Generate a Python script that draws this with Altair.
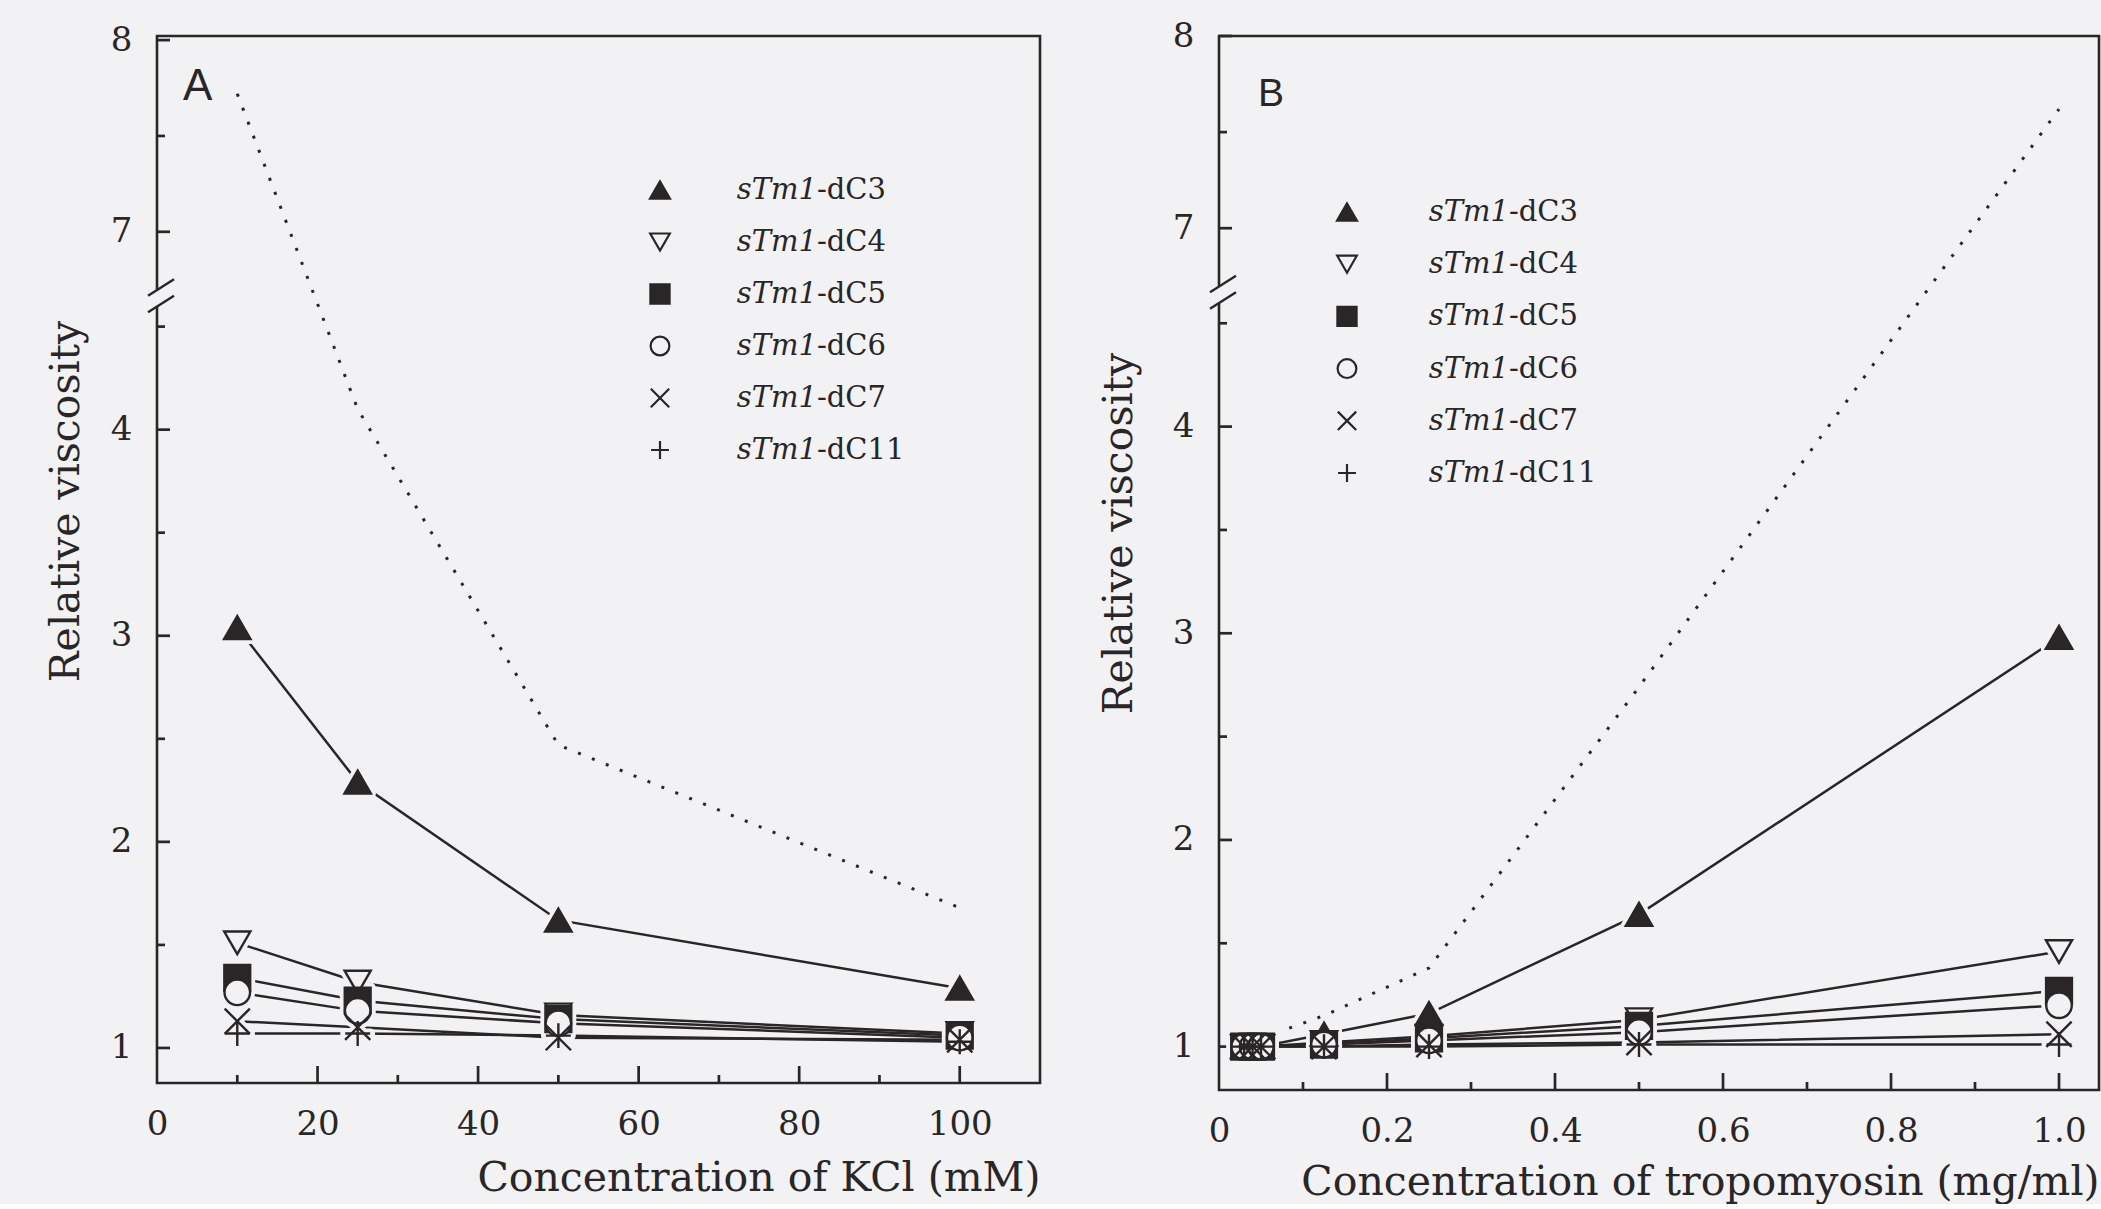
import altair as alt
import pandas as pd

INK = "#2a2527"
BG = "#f2f2f4"
SERIF = "DejaVu Serif"
SANS = "Liberation Sans"

# ---------------- data ----------------
SERIES = ["dC3", "dC4", "dC5", "dC6", "dC7", "dC11"]
PREFIX = "sTm1"
SHAPES = ["triangle-up", "triangle-down", "square", "circle",
          "M-1,-1L1,1M-1,1L1,-1", "M-1,0L1,0M0,-1L0,1"]
FILLS = [INK, BG, INK, BG, BG, BG]
SIZES = [700, 620, 420, 500, 420, 480]
LEG_SIZES = [400, 320, 250, 400, 300, 280]

# Panel A : KCl (mM)
kcl = [10, 25, 50, 100]
a_dC3 = [3.04, 2.29, 1.62, 1.29]
a_dC4 = [1.51, 1.32, 1.16, 1.07]
a_dC5 = [1.34, 1.23, 1.14, 1.06]
a_dC6 = [1.27, 1.18, 1.12, 1.05]
a_dC7 = [1.13, 1.10, 1.05, 1.04]
a_dC11 = [1.07, 1.07, 1.06, 1.03]
kcl_dot = [10, 25, 50, 100]
a_dot = [7.72, 4.10, 2.47, 1.68]

# Panel B : tropomyosin (mg/ml)
tm = [0.03, 0.04, 0.05, 0.125, 0.25, 0.5, 1.0]
b_dC3 = [1.0, 1.0, 1.0, 1.06, 1.16, 1.64, 2.98]
b_dC4 = [1.0, 1.0, 1.0, 1.02, 1.05, 1.13, 1.46]
b_dC5 = [1.0, 1.0, 1.0, 1.01, 1.04, 1.10, 1.27]
b_dC6 = [1.0, 1.0, 1.0, 1.01, 1.03, 1.07, 1.20]
b_dC7 = [1.0, 1.0, 1.0, 1.0, 1.01, 1.02, 1.06]
b_dC11 = [1.0, 1.0, 1.0, 1.0, 1.0, 1.01, 1.01]
tm_dot = [0.05, 0.125, 0.25, 0.5, 1.0]
b_dot = [1.04, 1.15, 1.38, 2.74, 7.62]

# axis ticks / labels
y_major = [1, 2, 3, 4, 7, 8]
y_minor = [1.5, 2.5, 3.5, 4.5, 7.5]
a_x_labels = [0, 20, 40, 60, 80, 100]
a_x_major = [20, 40, 60, 80, 100]
a_x_minor = [10, 30, 50, 70, 90]
b_x_labels = [0, 0.2, 0.4, 0.6, 0.8, 1.0]
b_x_major = [0.2, 0.4, 0.6, 0.8, 1.0]
b_x_minor = [0.1, 0.3, 0.5, 0.7, 0.9]

# broken y axis: values above the break are compressed onto the plot scale
UP_BASE, UP_SCALE = 4.96, 0.93
BREAK_GAP = [4.60, 4.68]
BREAK_SLASHES = [[4.57, 4.65], [4.65, 4.73]]


def to_plot(v):
    return v if v <= 5 else UP_BASE + (v - 7) * UP_SCALE


Y_LABEL_EXPR = (f"datum.value > 4.8 ? format(7 + (datum.value - {UP_BASE}) / {UP_SCALE}, '.0f')"
                " : format(datum.value, '.0f')")

SHAPE_SC = alt.Scale(domain=SERIES, range=SHAPES)
FILL_SC = alt.Scale(domain=SERIES, range=FILLS)
SIZE_SC = alt.Scale(domain=SERIES, range=SIZES)
LEG_SIZE_SC = alt.Scale(domain=SERIES, range=LEG_SIZES)


def make_panel(xs, series_vals, dot_x, dot_v, cfg):
    rows = []
    for name, vals in zip(SERIES, series_vals):
        for x, v in zip(xs, vals):
            rows.append({"x": x, "yp": to_plot(v), "value": v, "series": name})
    pts = pd.DataFrame(rows)
    dots = pd.DataFrame({"x": dot_x, "yp": [to_plot(v) for v in dot_v]})

    W, H = cfg["w"], cfg["h"]
    X = alt.X("x:Q", scale=alt.Scale(domain=cfg["xdom"], nice=False, zero=False),
              axis=alt.Axis(values=cfg["xlabels"], labelExpr=cfg["xlabexpr"], ticks=False,
                            domain=False, grid=False, labelFont=SERIF, labelFontSize=34,
                            labelColor=INK, labelPadding=24, labelFlush=False, labelOverlap=False,
                            title=cfg["xtitle"], titleFont=SERIF, titleFontSize=41,
                            titleFontWeight="normal", titleColor=INK, titleX=W,
                            titleY=cfg["xtitleY"], titleAlign="right",
                            titleBaseline="alphabetic", titleAnchor="end"))
    Y = alt.Y("yp:Q", scale=alt.Scale(domain=cfg["ydom"], nice=False, zero=False),
              axis=alt.Axis(values=[to_plot(v) for v in y_major], labelExpr=Y_LABEL_EXPR,
                            ticks=False, domain=False, grid=False, labelFont=SERIF,
                            labelFontSize=34, labelColor=INK, labelPadding=25,
                            labelBaseline="middle",
                            title="Relative viscosity", titleFont=SERIF, titleFontSize=41,
                            titleFontWeight="normal", titleColor=INK, titleAngle=270,
                            titleX=cfg["ytitle"][0], titleY=cfg["ytitle"][1],
                            titleAlign="center", titleBaseline="middle"))

    dotted = alt.Chart(dots).mark_line(color=INK, strokeWidth=3, strokeDash=[3, 12]).encode(
        x=X, y=Y)
    lines = alt.Chart(pts).mark_line(color=INK, strokeWidth=2.5).encode(
        x=X, y=Y, detail="series:N")

    # inward tick marks: short segments from the axis into the plot
    tk = dict(color=INK, strokeWidth=2.7)
    xt_major = pd.DataFrame({"x": cfg["xmajor"]})
    xt_minor = pd.DataFrame({"x": cfg["xminor"]})
    yt_major = pd.DataFrame({"yp": [to_plot(v) for v in y_major]})
    yt_minor = pd.DataFrame({"yp": [to_plot(v) for v in y_minor]})
    ticks = [
        alt.Chart(xt_major).mark_rule(**tk).encode(x=X, y=alt.value(H - 17), y2=alt.value(H)),
        alt.Chart(xt_minor).mark_rule(**tk).encode(x=X, y=alt.value(H - 8), y2=alt.value(H)),
        alt.Chart(yt_major).mark_rule(**tk).encode(y=Y, x=alt.value(0), x2=alt.value(13)),
        alt.Chart(yt_minor).mark_rule(**tk).encode(y=Y, x=alt.value(0), x2=alt.value(8)),
    ]

    gap = pd.DataFrame({"yp": [BREAK_GAP[0]], "yp2": [BREAK_GAP[1]]})
    slashes = pd.DataFrame({"yp": [s[0] for s in BREAK_SLASHES],
                            "yp2": [s[1] for s in BREAK_SLASHES]})
    brk = [
        alt.Chart(gap).mark_rule(color=BG, strokeWidth=8).encode(
            x=alt.value(0), x2=alt.value(0), y=Y, y2=alt.Y2("yp2")),
        alt.Chart(slashes).mark_rule(color=INK, strokeWidth=2.4).encode(
            x=alt.value(-9), x2=alt.value(17), y=Y, y2=alt.Y2("yp2")),
    ]
    halos = alt.Chart(pts).mark_point(filled=True, opacity=1, fill=BG, stroke=BG,
                                      strokeWidth=10, strokeJoin="round",
                                      strokeCap="round").encode(
        x=X, y=Y,
        shape=alt.Shape("series:N", scale=SHAPE_SC, legend=None),
        size=alt.Size("series:N", scale=SIZE_SC, legend=None))
    marks = alt.Chart(pts).mark_point(filled=True, opacity=1, stroke=INK,
                                      strokeWidth=2.4).encode(
        x=X, y=Y,
        shape=alt.Shape("series:N", scale=SHAPE_SC, legend=None),
        fill=alt.Fill("series:N", scale=FILL_SC, legend=None),
        size=alt.Size("series:N", scale=SIZE_SC, legend=None))

    main = alt.layer(dotted, lines, *ticks, *brk, halos, marks)

    # manual legend (mixed italic / roman label), own row scale
    leg = pd.DataFrame({"series": SERIES, "row": list(range(len(SERIES))),
                        "pre": [PREFIX] * len(SERIES), "suf": ["-" + s for s in SERIES]})
    LY = alt.Y("row:Q", scale=alt.Scale(domain=[0, len(SERIES) - 1], range=cfg["legrange"]),
               axis=None)
    leg_sym = alt.Chart(leg).mark_point(filled=True, opacity=1, stroke=INK,
                                        strokeWidth=2.2).encode(
        x=alt.value(cfg["legx"]), y=LY,
        shape=alt.Shape("series:N", scale=SHAPE_SC, legend=None),
        fill=alt.Fill("series:N", scale=FILL_SC, legend=None),
        size=alt.Size("series:N", scale=LEG_SIZE_SC, legend=None))
    leg_pre = alt.Chart(leg).mark_text(font=SERIF, fontStyle="italic", fontSize=29,
                                       align="right", baseline="middle", color=INK).encode(
        x=alt.value(cfg["legj"]), y=LY, text="pre:N")
    leg_suf = alt.Chart(leg).mark_text(font=SERIF, fontSize=29, align="left",
                                       baseline="middle", color=INK).encode(
        x=alt.value(cfg["legj"]), y=LY, text="suf:N")
    letter = alt.Chart(pd.DataFrame({"t": [cfg["letter"]]})).mark_text(
        font=SANS, fontSize=cfg["letsize"], align="left", baseline="alphabetic",
        color=INK).encode(x=alt.value(cfg["letpos"][0]), y=alt.value(cfg["letpos"][1]),
                          text="t:N")
    extra = [leg_sym, leg_pre, leg_suf, letter]
    if cfg.get("anchor"):
        extra.append(alt.Chart(pd.DataFrame({"a": [0]})).mark_rule(opacity=0, strokeOpacity=0).encode(
            x=alt.value(cfg["anchor"][0]), x2=alt.value(cfg["anchor"][0] + 1),
            y=alt.value(cfg["anchor"][1]), y2=alt.value(cfg["anchor"][1] + 1)))
    legend = alt.layer(*extra)

    return alt.layer(main, legend).resolve_scale(
        x="independent", y="independent", size="independent").properties(width=W, height=H)


panelA = make_panel(
    kcl, [a_dC3, a_dC4, a_dC5, a_dC6, a_dC7, a_dC11], kcl_dot, a_dot,
    dict(w=883, h=1047, xdom=[0, 110], ydom=[0.83, 5.91],
         xlabels=a_x_labels, xlabexpr="format(datum.value, 'd')",
         xmajor=a_x_major, xminor=a_x_minor,
         xtitle="Concentration of KCl (mM)", xtitleY=107, ytitle=(-91, 465),
         legrange=[154, 414], legx=503, legj=660,
         letter="A", letsize=44, letpos=(26, 64), anchor=(-155, -34)))

panelB = make_panel(
    tm, [b_dC3, b_dC4, b_dC5, b_dC6, b_dC7, b_dC11], tm_dot, b_dot,
    dict(w=880, h=1054, xdom=[0, 1.0476], ydom=[0.79, 5.89],
         xlabels=b_x_labels,
         xlabexpr="datum.value == 0 ? '0' : format(datum.value, '.1f')",
         xmajor=b_x_major, xminor=b_x_minor,
         xtitle="Concentration of tropomyosin (mg/ml)", xtitleY=104, ytitle=(-100, 497),
         legrange=[176, 437], legx=128, legj=290,
         letter="B", letsize=39, letpos=(39, 70)))

chart = alt.hconcat(panelA, panelB, spacing=179, bounds="flush").properties(
    padding=0, background=BG
).configure_view(stroke=INK, strokeWidth=2.6)

chart.save("out.html", embed_options={"renderer": "svg", "actions": False})
